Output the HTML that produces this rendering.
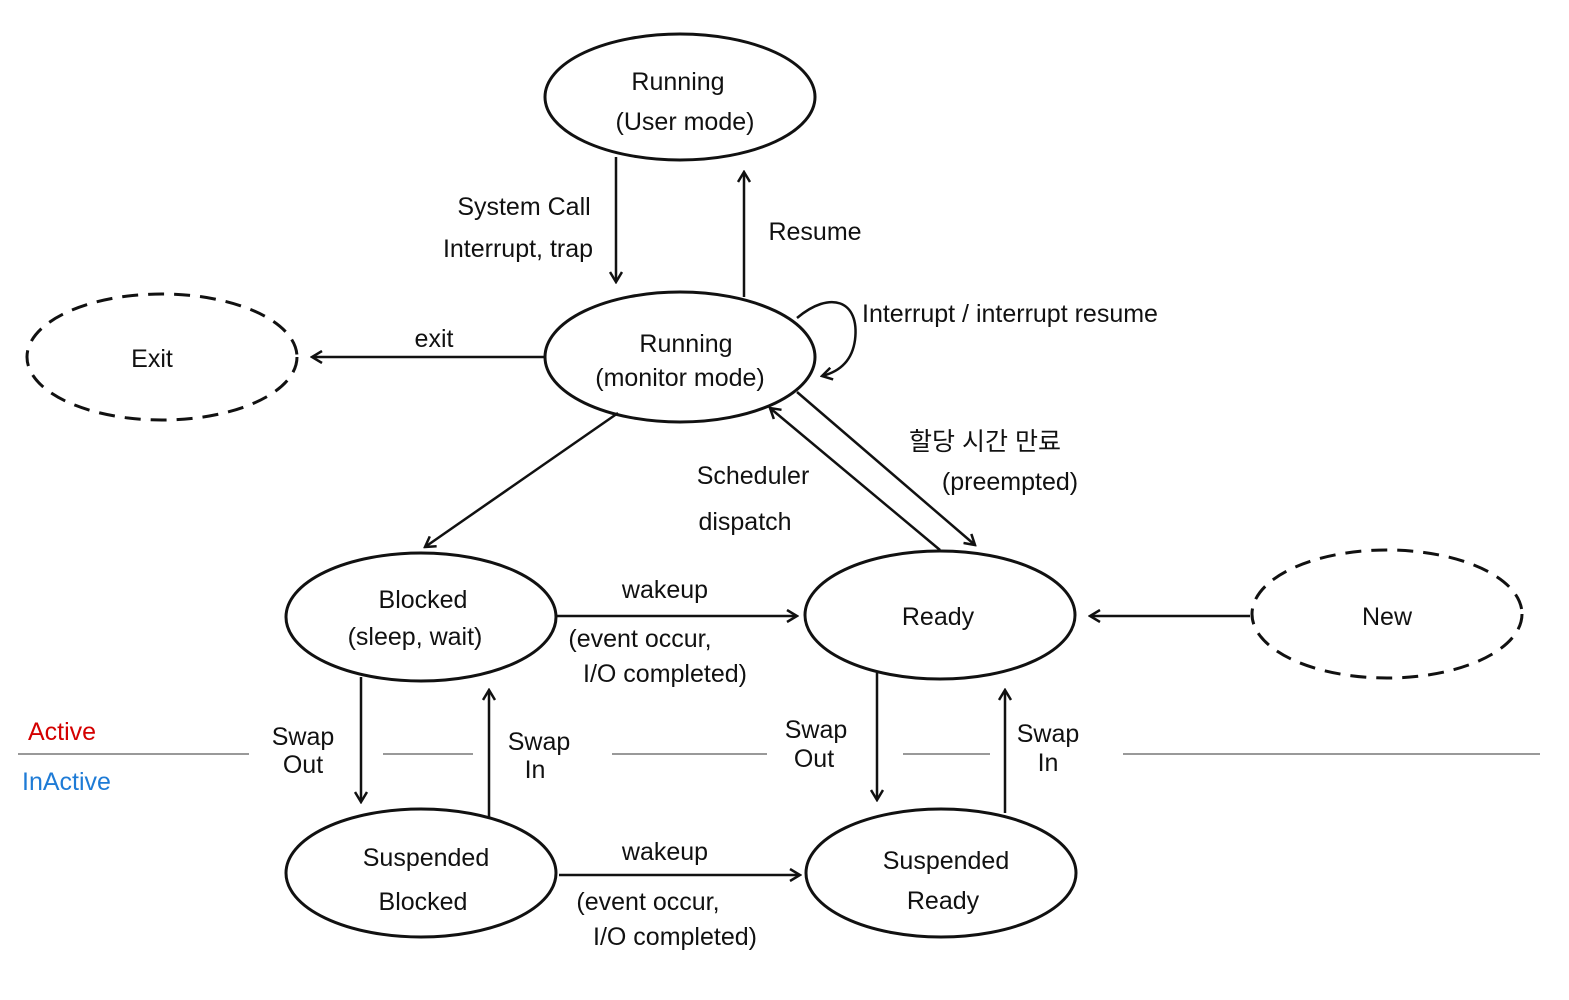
<!DOCTYPE html>
<html><head><meta charset="utf-8"><style>
html,body{margin:0;padding:0;background:#fff;}
svg{display:block;}
text{font-family:"Liberation Sans","Noto Sans CJK KR",sans-serif;font-size:25px;fill:#111;}
</style></head><body>
<svg width="1569" height="1000" viewBox="0 0 1569 1000" xmlns="http://www.w3.org/2000/svg">
<defs>
<marker id="a" markerWidth="14" markerHeight="14" refX="12" refY="7" orient="auto" markerUnits="userSpaceOnUse">
<path d="M2,1 L12,7 L2,13" fill="none" stroke="#111" stroke-width="2.5"/>
</marker>
</defs>
<g stroke="#999" stroke-width="2">
<line x1="18" y1="754" x2="249" y2="754"/><line x1="383" y1="754" x2="473" y2="754"/>
<line x1="612" y1="754" x2="767" y2="754"/><line x1="903" y1="754" x2="990" y2="754"/>
<line x1="1123" y1="754" x2="1540" y2="754"/>
</g>
<g fill="none" stroke="#111" stroke-width="3">
<ellipse cx="680" cy="97" rx="135" ry="63"/>
<ellipse cx="680" cy="357" rx="135" ry="65"/>
<ellipse cx="162" cy="357" rx="135" ry="63" stroke-dasharray="16,10"/>
<ellipse cx="421" cy="617" rx="135" ry="64"/>
<ellipse cx="940" cy="615" rx="135" ry="64"/>
<ellipse cx="1387" cy="614" rx="135" ry="64" stroke-dasharray="16,10"/>
<ellipse cx="421" cy="873" rx="135" ry="64"/>
<ellipse cx="941" cy="873" rx="135" ry="64"/>
</g>
<g fill="none" stroke="#111" stroke-width="2.5" marker-end="url(#a)">
<line x1="616" y1="157" x2="616" y2="282"/>
<line x1="744" y1="297" x2="744" y2="172"/>
<line x1="545" y1="357" x2="312" y2="357"/>
<path d="M797,318 C830,290 860,300 855,340 C852,362 838,372 822,376"/>
<line x1="618" y1="413" x2="425" y2="547"/>
<line x1="940" y1="550" x2="770" y2="408"/>
<line x1="797" y1="392" x2="975" y2="545"/>
<line x1="557" y1="616" x2="797" y2="616"/>
<line x1="1250" y1="616" x2="1090" y2="616"/>
<line x1="361" y1="677" x2="361" y2="802"/>
<line x1="489" y1="817" x2="489" y2="690"/>
<line x1="877" y1="673" x2="877" y2="800"/>
<line x1="1005" y1="813" x2="1005" y2="690"/>
<line x1="559" y1="875" x2="800" y2="875"/>
</g>
<g text-anchor="middle">
<text x="678" y="90">Running</text><text x="685" y="130">(User mode)</text>
<text x="686" y="352">Running</text><text x="680" y="386">(monitor mode)</text>
<text x="152" y="367">Exit</text>
<text x="423" y="608">Blocked</text><text x="415" y="645">(sleep, wait)</text>
<text x="938" y="625">Ready</text>
<text x="1387" y="625">New</text>
<text x="426" y="866">Suspended</text><text x="423" y="910">Blocked</text>
<text x="946" y="869">Suspended</text><text x="943" y="909">Ready</text>
<text x="524" y="215">System Call</text><text x="518" y="257">Interrupt, trap</text>
<text x="815" y="240">Resume</text>
<text x="434" y="347">exit</text>
<text x="985" y="450">할당 시간 만료</text><text x="1010" y="490">(preempted)</text>
<text x="753" y="484">Scheduler</text><text x="745" y="530">dispatch</text>
<text x="665" y="598">wakeup</text>
<text x="640" y="647">(event occur,</text><text x="665" y="682">I/O completed)</text>
<text x="665" y="860">wakeup</text>
<text x="648" y="910">(event occur,</text><text x="675" y="945">I/O completed)</text>
<text x="303" y="745">Swap</text><text x="303" y="773">Out</text>
<text x="539" y="750">Swap</text><text x="535" y="778">In</text>
<text x="816" y="738">Swap</text><text x="814" y="767">Out</text>
<text x="1048" y="742">Swap</text><text x="1048" y="771">In</text>
</g>
<text x="862" y="322">Interrupt / interrupt resume</text>
<text x="28" y="740" style="fill:#d40000">Active</text>
<text x="22" y="790" style="fill:#1e7bd6">InActive</text>
</svg>
</body></html>
